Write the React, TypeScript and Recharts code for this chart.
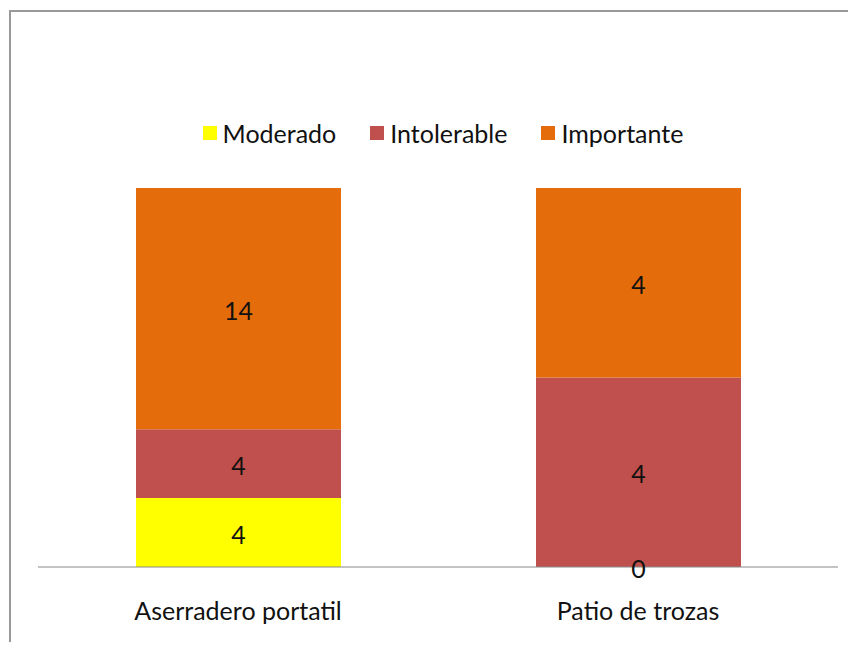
import { BarChart, Bar, XAxis, YAxis, LabelList } from "recharts";

const categories = ["Aserradero portatil", "Patio de trozas"];
const moderado = [4, 0];
const intolerable = [4, 4];
const importante = [14, 4];

const SERIES = [
  { key: "Moderado", values: moderado, color: "#FFFF00" },
  { key: "Intolerable", values: intolerable, color: "#C0504D" },
  { key: "Importante", values: importante, color: "#E46C0A" },
];

const data = categories.map((name, i) => ({
  name,
  Moderado: moderado[i],
  Intolerable: intolerable[i],
  Importante: importante[i],
}));

const FONT = "Lato, 'Open Sans', sans-serif";
const FS = 25;

function LegendRow() {
  return (
    <div
      style={{
        position: "absolute",
        top: 118,
        left: 15,
        width: 856,
        display: "flex",
        justifyContent: "center",
        fontFamily: FONT,
        fontSize: FS,
        color: "#111",
      }}
    >
      {SERIES.map((s) => (
        <div key={s.key} style={{ display: "flex", alignItems: "center", margin: "0 17px" }}>
          <span style={{ display: "inline-block", width: 14, height: 14, background: s.color, marginRight: 6 }} />
          <span>{s.key}</span>
        </div>
      ))}
    </div>
  );
}

// zero-height segments still get their label (the "0" on the axis line)
const renderLabel = (props: any) => {
  const { x, y, width, height, value } = props;
  if (value === undefined || value === null) return null;
  return (
    <text
      x={Number(x) + Number(width) / 2}
      y={Number(y) + Number(height) / 2 + 1}
      textAnchor="middle"
      dominantBaseline="central"
      fill="#111"
      style={{ fontSize: FS, fontFamily: FONT }}
    >
      {value}
    </text>
  );
};

export default function App() {
  return (
    <div style={{ position: "relative", width: 856, height: 650, margin: -8, overflow: "hidden", background: "#fff" }}>
      <div
        style={{
          position: "absolute",
          left: 9,
          top: 10,
          width: 900,
          height: 700,
          border: "2px solid #999",
          boxSizing: "border-box",
        }}
      />
      <div style={{ position: "absolute", left: 0, top: 0 }}>
        <BarChart
          width={856}
          height={650}
          data={data}
          stackOffset="expand"
          margin={{ top: 188, right: 18, bottom: 53, left: 38 }}
          barSize={205}
        >
          <XAxis
            dataKey="name"
            axisLine={{ stroke: "#888" }}
            tickLine={false}
            tickSize={0}
            tickMargin={35}
            tick={{ fill: "#111", fontSize: FS, fontFamily: FONT }}
          />
          <YAxis hide domain={[0, 1]} />
          {SERIES.map((s) => (
            <Bar
              key={s.key}
              dataKey={s.key}
              stackId="a"
              fill={s.color}
              minPointSize={0.01}
              isAnimationActive={false}
            >
              <LabelList dataKey={s.key} content={renderLabel} />
            </Bar>
          ))}
        </BarChart>
      </div>
      <LegendRow />
    </div>
  );
}
